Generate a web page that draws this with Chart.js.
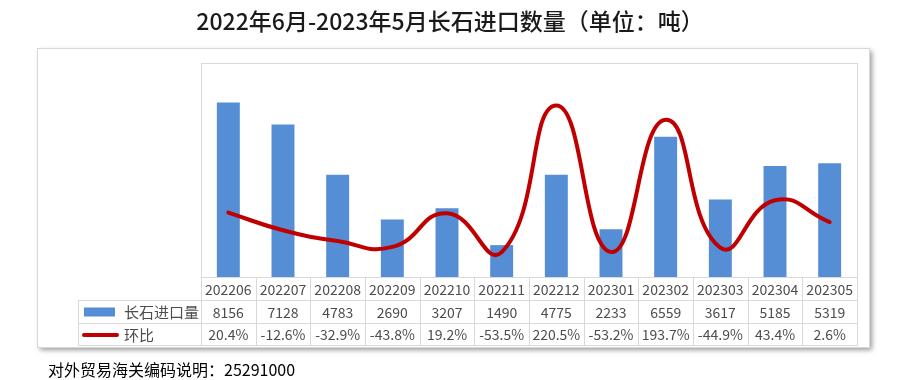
<!DOCTYPE html>
<html>
<head>
<meta charset="utf-8">
<script src="https://cdn.jsdelivr.net/npm/chart.js@4"></script>
<style>
  html, body { margin: 0; padding: 0; background: #fff; }
  #wrap { width: 900px; height: 380px; position: relative; }
</style>
</head>
<body>
<div id="wrap"><canvas id="c"></canvas></div>
<script>
'use strict';

// ── data ───────────────────────────────────────────────
const months = ['202206','202207','202208','202209','202210','202211','202212','202301','202302','202303','202304','202305'];
const importQty = [8156, 7128, 4783, 2690, 3207, 1490, 4775, 2233, 6559, 3617, 5185, 5319];
const momRate = [20.4, -12.6, -32.9, -43.8, 19.2, -53.5, 220.5, -53.2, 193.7, -44.9, 43.4, 2.6];

const titleText = '2022年6月-2023年5月长石进口数量（单位：吨）';
const footText = '对外贸易海关编码说明：25291000';
const barName = '长石进口量';
const lineName = '环比';

const BAR = '#558ED5';
const RED = '#C00000';
const GRID = '#D9D9D9';
const FONT = "'Noto Sans CJK SC','Noto Sans',sans-serif";

// ── card, title, table, footer ─────────────────────────
const frame = {
  id: 'frame',
  beforeDraw(chart) {
    const c = chart.ctx;
    const a = chart.chartArea;
    c.save();
    c.fillStyle = '#fff';
    c.fillRect(0, 0, chart.width, chart.height);
    // card with shadow
    c.shadowColor = 'rgba(0,0,0,0.4)';
    c.shadowBlur = 5;
    c.shadowOffsetX = 3;
    c.shadowOffsetY = 3;
    c.fillRect(37, 48, 832, 299);
    c.shadowColor = 'transparent';
    c.strokeStyle = GRID;
    c.lineWidth = 1;
    c.strokeRect(37.5, 48.5, 832, 299);
    // plot border
    c.strokeRect(a.left + 0.5, a.top + 0.5, a.right - a.left, a.bottom - a.top);
    // title
    c.fillStyle = '#1a1a1a';
    c.font = '500 23px ' + FONT;
    c.textAlign = 'center';
    c.textBaseline = 'middle';
    c.fillText(titleText, 450, 21);
    // footer
    c.fillStyle = '#000';
    c.font = '16px ' + FONT;
    c.textAlign = 'left';
    c.fillText(footText, 48, 370);
    c.restore();
  },
  afterDraw(chart) {
    const c = chart.ctx;
    const a = chart.chartArea;
    const x = chart.scales.x;
    const w = (a.right - a.left) / months.length;
    const r0 = a.bottom, r1 = r0 + 23, r2 = r1 + 23, r3 = r2 + 22;
    const legL = 78;
    c.save();
    c.strokeStyle = GRID;
    c.lineWidth = 1;
    c.beginPath();
    for (let i = 0; i <= months.length; i++) {
      const bx = Math.round(a.left + i * w) + 0.5;
      c.moveTo(bx, r0); c.lineTo(bx, r3);
    }
    [r1, r2, r3].forEach(y => { c.moveTo(legL, y + 0.5); c.lineTo(a.right + 1, y + 0.5); });
    c.moveTo(legL + 0.5, r1); c.lineTo(legL + 0.5, r3);
    c.stroke();

    c.fillStyle = '#4d4d4d';
    c.font = '14px ' + FONT;
    c.textAlign = 'center';
    c.textBaseline = 'middle';
    months.forEach((m, i) => {
      const cx = x.getPixelForTick(i);
      c.fillText(m, cx, (r0 + r1) / 2 + 1);
      c.fillText(String(importQty[i]), cx, (r1 + r2) / 2 + 1);
      c.fillText(momRate[i].toFixed(1) + '%', cx, (r2 + r3) / 2 + 1);
    });
    // legend keys
    c.fillStyle = BAR;
    c.fillRect(84, (r1 + r2) / 2 - 4, 31, 9);
    c.strokeStyle = RED;
    c.lineWidth = 4;
    c.lineCap = 'round';
    c.beginPath();
    c.moveTo(84, (r2 + r3) / 2 + 1); c.lineTo(117, (r2 + r3) / 2 + 1);
    c.stroke();
    c.fillStyle = '#4d4d4d';
    c.textAlign = 'left';
    c.font = '15px ' + FONT;
    c.fillText(barName, 124, (r1 + r2) / 2 + 1);
    c.fillText(lineName, 124, (r2 + r3) / 2 + 1);
    c.restore();
  }
};

new Chart(document.getElementById('c'), {
  data: {
    labels: months,
    datasets: [
      {
        type: 'line',
        label: lineName,
        data: momRate,
        yAxisID: 'y1',
        borderColor: RED,
        borderWidth: 4,
        pointRadius: 0,
        tension: 0.5,
        borderCapStyle: 'round',
        order: 0
      },
      {
        type: 'bar',
        label: barName,
        data: importQty,
        yAxisID: 'y',
        backgroundColor: BAR,
        categoryPercentage: 1,
        barPercentage: 0.42,
        order: 1
      }
    ]
  },
  options: {
    responsive: true,
    maintainAspectRatio: false,
    animation: false,
    layout: { padding: { left: 201, right: 43, top: 63, bottom: 103 } },
    scales: {
      x: { display: false, offset: true },
      y: { display: false, min: 0, max: 10000 },
      y1: { display: false, min: -100, max: 300 }
    },
    plugins: {
      legend: { display: false },
      title: { display: false },
      tooltip: { enabled: false }
    }
  },
  plugins: [frame]
});
</script>
</body>
</html>
